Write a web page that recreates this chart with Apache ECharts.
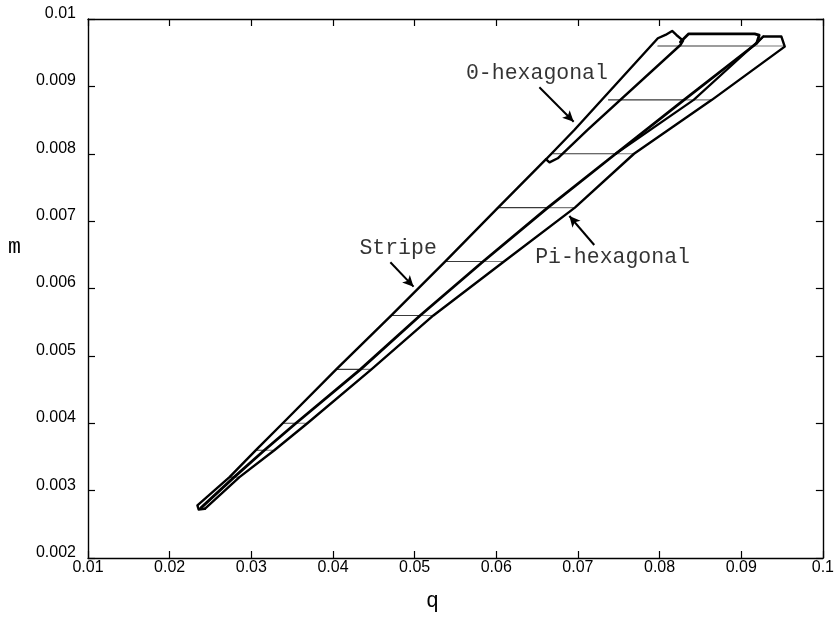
<!DOCTYPE html>
<html><head><meta charset="utf-8">
<script src="https://cdn.jsdelivr.net/npm/echarts@6/dist/echarts.min.js"></script>
<style>html,body{margin:0;padding:0;background:#fff}#c{width:837px;height:617px}</style>
</head><body><div id="c"></div>
<script>
// tick labels
const xTickLabels = ['0.01','0.02','0.03','0.04','0.05','0.06','0.07','0.08','0.09','0.1'];
const yTickLabels = ['0.002','0.003','0.004','0.005','0.006','0.007','0.008','0.009','0.01'];

// Stripe left boundary (q, m)
const stripeQ = [0.0243, 0.02355, 0.0234, 0.02733, 0.03056, 0.03385, 0.04040, 0.04715, 0.05373, 0.06022, 0.0661];
const stripeM = [0.00273, 0.00272, 0.00278, 0.0032, 0.0036, 0.0040, 0.0048, 0.0056, 0.0064, 0.0072, 0.00792];

// middle boundary, tip to top, then the top cap going left to the 0-hexagonal sliver
const midQ = [0.0238, 0.02790, 0.03160, 0.03546, 0.04337, 0.05068, 0.05839, 0.06631, 0.07463, 0.08300, 0.0919, 0.0922, 0.09165, 0.08357, 0.08255];
const midM = [0.00274, 0.0032, 0.0036, 0.0040, 0.0048, 0.0056, 0.0064, 0.0072, 0.0080, 0.0088, 0.00964, 0.00976, 0.00978, 0.00978, 0.00966];

// second middle boundary near the top
const mid2Q = [0.07463, 0.08418, 0.0927];
const mid2M = [0.0080, 0.0088, 0.00974];

// Pi-hexagonal right boundary, tip to top cap
const piQ = [0.0243, 0.02855, 0.03282, 0.03687, 0.04471, 0.05230, 0.06095, 0.06963, 0.07687, 0.08641, 0.09533, 0.09492, 0.09270, 0.0919];
const piM = [0.00273, 0.0032, 0.0036, 0.0040, 0.0048, 0.0056, 0.0064, 0.0072, 0.0080, 0.0088, 0.00959, 0.00974, 0.00974, 0.00964];

// 0-hexagonal sliver (closed)
const hexQ = [0.06610, 0.06652, 0.06753, 0.07118, 0.08255, 0.08288, 0.08206, 0.08154, 0.08072, 0.07979, 0.06956, 0.06610];
const hexM = [0.007918, 0.007873, 0.007933, 0.008353, 0.009614, 0.009678, 0.009763, 0.009822, 0.009763, 0.009714, 0.008353, 0.007918];

// tie lines
const tieM      = [0.0032, 0.0036, 0.0040, 0.0048, 0.0056, 0.0064, 0.0072, 0.0080, 0.0088, 0.0096];
const tieLeftQ  = [0.02733, 0.03056, 0.03385, 0.04040, 0.04715, 0.05373, 0.06022, 0.06692, 0.07374, 0.07979];
const tieMidQ   = [0.02790, 0.03160, 0.03546, 0.04337, 0.05068, 0.05839, 0.06631, 0.07463, 0.08300, 0.09150];
const tieRightQ = [0.02855, 0.03282, 0.03687, 0.04471, 0.05230, 0.06095, 0.06963, 0.07687, 0.08641, 0.09514];

// annotations
const labelNames = ['0-hexagonal', 'Pi-hexagonal', 'Stripe'];
const labelQ = [0.06498, 0.07424, 0.04798];
const labelM = [0.00920, 0.006465, 0.006594];
const arrowFromQ = [0.06528, 0.07200, 0.04703];
const arrowFromM = [0.008986, 0.006646, 0.006389];
const arrowToQ = [0.06948, 0.06895, 0.04987];
const arrowToM = [0.008476, 0.007076, 0.006027];

const pts = (qs, ms) => qs.map((q, i) => [q, ms[i]]);
const line = (data, w, color) => ({
  type: 'line', data, showSymbol: false, symbol: 'none', silent: true,
  lineStyle: { color: color || '#000', width: w, join: 'round', cap: 'round' }, z: 3
});

const series = [];
tieM.forEach((m, i) => {
  series.push(line([[tieLeftQ[i], m], [tieMidQ[i], m]], 1.1, '#3a3a3a'));
  series.push(line([[tieMidQ[i], m], [tieRightQ[i], m]], 1.1, '#7a7a7a'));
});
series.push(line(pts(stripeQ, stripeM), 2.4));
series.push(line(pts(midQ, midM), 2.8));
series.push(line(pts(mid2Q, mid2M), 2.2));
series.push(line(pts(piQ, piM), 2.4));
series.push(line(pts(hexQ, hexM), 2.4));

const mono = 'Liberation Mono';
series.push({
  type: 'scatter', symbol: 'circle', symbolSize: 1, silent: true,
  itemStyle: { color: 'rgba(0,0,0,0)' },
  data: labelNames.map((n, i) => ({ name: n, value: [labelQ[i], labelM[i]] })),
  label: { show: true, position: 'inside', formatter: p => p.name,
    fontFamily: mono, fontSize: 21.5, color: '#000' },
  markLine: {
    silent: true, symbol: ['none', 'arrow'], symbolSize: [8, 11],
    label: { show: false },
    lineStyle: { color: '#000', width: 2, type: 'solid' },
    data: arrowFromQ.map((q, i) => [{ coord: [q, arrowFromM[i]] }, { coord: [arrowToQ[i], arrowToM[i]] }])
  }
});

const axisCommon = {
  axisLine: { show: true, lineStyle: { color: '#000', width: 1.4 } },
  axisTick: { show: true, inside: true, length: 7, lineStyle: { color: '#000', width: 1.2 } },
  splitLine: { show: false }
};

const chart = echarts.init(document.getElementById('c'), null, { renderer: 'canvas' });
chart.setOption({
  animation: false,
  backgroundColor: '#fff',
  grid: { left: 88, right: 10, top: 19, bottom: 59, containLabel: false },
  xAxis: [
    Object.assign({ type: 'value', min: 0.01, max: 0.1, interval: 0.01, position: 'bottom',
      axisLabel: { margin: 2, fontFamily: 'Liberation Sans', fontSize: 16, color: '#000',
        formatter: v => xTickLabels[Math.round((v - 0.01) / 0.01)] } }, axisCommon),
    Object.assign({ type: 'value', min: 0.01, max: 0.1, interval: 0.01, position: 'top',
      axisLabel: { show: false } }, axisCommon)
  ],
  yAxis: [
    Object.assign({ type: 'value', min: 0.002, max: 0.01, interval: 0.001, position: 'left',
      axisLabel: { margin: 12, fontFamily: 'Liberation Sans', fontSize: 16, color: '#000',
        verticalAlign: 'bottom', lineHeight: 11,
        formatter: v => yTickLabels[Math.round((v - 0.002) / 0.001)] } }, axisCommon),
    Object.assign({ type: 'value', min: 0.002, max: 0.01, interval: 0.001, position: 'right',
      axisLabel: { show: false } }, axisCommon)
  ],
  graphic: [
    { type: 'text', left: 8, top: 236, style: { text: 'm', font: '21.5px "Liberation Mono"', fill: '#000' } },
    { type: 'text', left: 426, top: 590, style: { text: 'q', font: '21.5px "Liberation Mono"', fill: '#000' } }
  ],
  series
});
</script>
</body></html>
